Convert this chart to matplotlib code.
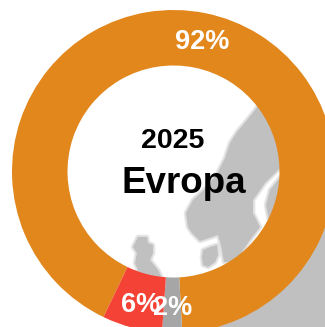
import matplotlib
matplotlib.use('Agg')
import matplotlib.pyplot as plt
from matplotlib.patches import Polygon

plt.rcParams['font.family'] = ['Liberation Sans', 'DejaVu Sans']

# Ring values
labels = ['Evropa', 'Druga', 'Ostalo']
values = [92, 2, 6]
colors = ['#E1871C', '#A6A6A6', '#F44336']
year = '2025'
region = 'Evropa'

# Background map outlines, in picture pixels
scandinavia = [(262, 100), (255, 110), (247, 120), (237, 132), (230, 143), (225, 158),
               (218, 172), (207, 187), (193, 200), (186, 213), (188, 227), (192, 233),
               (200, 241), (218, 235), (221, 245), (224, 262), (235, 262), (250, 240),
               (260, 227), (253, 213), (253, 200), (265, 183), (281, 167), (290, 100)]
finland = [(282, 175), (270, 190), (266, 205), (270, 225), (285, 225), (285, 175)]
denmark = [(203, 250), (210, 247), (217, 245), (218, 255), (215, 262), (208, 267),
           (203, 265), (202, 257)]
britain = [(138, 237), (147, 237), (148, 243), (153, 245), (153, 253), (150, 260),
           (158, 270), (162, 278), (140, 275), (135, 263), (137, 253), (133, 247)]
corner = [(215, 330), (215, 285), (250, 262), (280, 225), (330, 215), (330, 330)]

fig = plt.figure(figsize=(3.25, 3.27), dpi=100)
ax = fig.add_axes([0, 0, 1, 1])

# map sits under the ring, wide faint strokes give it the blurry edge
for shape in [scandinavia, finland, denmark, britain]:
    for lw in [3.5, 2.0]:
        ax.add_patch(Polygon(shape, closed=True, facecolor='none', edgecolor='#C0C0C0', alpha=0.3,
                             linewidth=lw, joinstyle='round', zorder=0))
    ax.add_patch(Polygon(shape, closed=True, facecolor='#C0C0C0', edgecolor='none', zorder=0))
ax.add_patch(Polygon(corner, closed=True, facecolor='#C0C0C0', edgecolor='none', zorder=0))

# y axis is flipped below, so counterclock here reads clockwise on the picture
wedges, texts, autotexts = ax.pie(values, colors=colors, startangle=115.7, counterclock=True,
                                  center=(173.5, 171.5), radius=161.5, autopct='%d%%', pctdistance=0.83,
                                  wedgeprops=dict(width=55.5, linewidth=0), frame=True,
                                  textprops=dict(color='white', fontsize=19.5, fontweight='bold'))

# nudge the labels to where the reference has them
for t, (dx, dy) in zip(autotexts, [(2, 2), (0, 2), (2, 4)]):
    x, y = t.get_position()
    t.set_position((x + dx, y + dy))

ax.text(172.5, 148, year, ha='center', va='baseline', fontsize=20.5, fontweight='bold', color='black')
ax.text(184, 193, region, ha='center', va='baseline', fontsize=26.5, fontweight='bold', color='black')

ax.set_xlim(0, 325)
ax.set_ylim(327, 0)
ax.axis('off')

fig.savefig('out.png', dpi=100)
